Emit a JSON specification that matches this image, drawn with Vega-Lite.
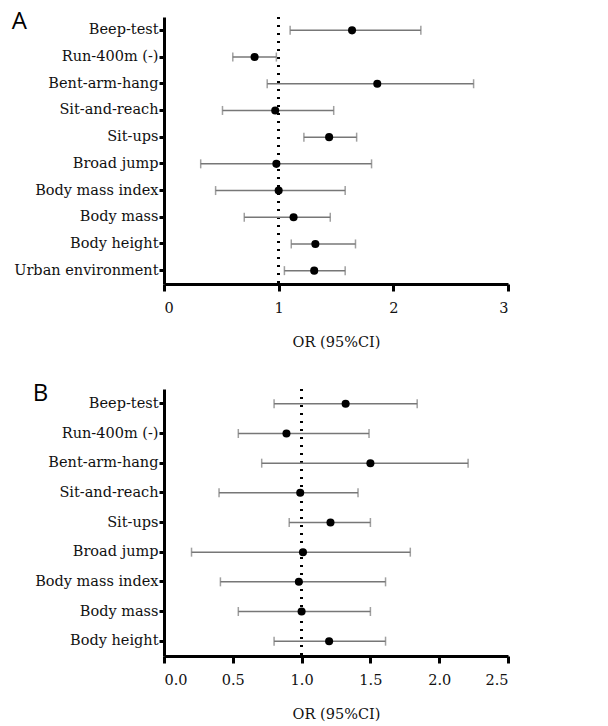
{
  "$schema": "https://vega.github.io/schema/vega-lite/v6.json",
  "background": "white",
  "padding": {"left": 11, "top": 9, "right": 5, "bottom": 5},
  "config": {
    "view": {"stroke": null},
    "axis": {
      "domainColor": "black", "domainWidth": 3, "tickColor": "black", "tickWidth": 3,
      "labelFontSize": 14.5, "labelColor": "#111",
      "titleFontSize": 14.5, "titleFontWeight": "normal", "titleColor": "#111",
      "grid": false
    },
    "title": {"font": "Open Sans", "fontSize": 24, "fontWeight": "normal", "anchor": "start", "frame": "bounds", "color": "black"}
  },
  "datasets": {
    "A": [
      {"measure": "Beep-test", "or": 1.64, "lo": 1.10, "hi": 2.24},
      {"measure": "Run-400m (-)", "or": 0.79, "lo": 0.60, "hi": 0.98},
      {"measure": "Bent-arm-hang", "or": 1.86, "lo": 0.90, "hi": 2.70},
      {"measure": "Sit-and-reach", "or": 0.97, "lo": 0.51, "hi": 1.48},
      {"measure": "Sit-ups", "or": 1.44, "lo": 1.22, "hi": 1.68},
      {"measure": "Broad jump", "or": 0.98, "lo": 0.32, "hi": 1.81},
      {"measure": "Body mass index", "or": 1.00, "lo": 0.45, "hi": 1.58},
      {"measure": "Body mass", "or": 1.13, "lo": 0.70, "hi": 1.45},
      {"measure": "Body height", "or": 1.32, "lo": 1.11, "hi": 1.67},
      {"measure": "Urban environment", "or": 1.31, "lo": 1.05, "hi": 1.58}
    ],
    "B": [
      {"measure": "Beep-test", "or": 1.32, "lo": 0.80, "hi": 1.84},
      {"measure": "Run-400m (-)", "or": 0.89, "lo": 0.54, "hi": 1.49},
      {"measure": "Bent-arm-hang", "or": 1.50, "lo": 0.71, "hi": 2.21},
      {"measure": "Sit-and-reach", "or": 0.99, "lo": 0.40, "hi": 1.41},
      {"measure": "Sit-ups", "or": 1.21, "lo": 0.91, "hi": 1.50},
      {"measure": "Broad jump", "or": 1.01, "lo": 0.20, "hi": 1.79},
      {"measure": "Body mass index", "or": 0.98, "lo": 0.41, "hi": 1.61},
      {"measure": "Body mass", "or": 1.00, "lo": 0.54, "hi": 1.50},
      {"measure": "Body height", "or": 1.20, "lo": 0.80, "hi": 1.61}
    ]
  },
  "spacing": 32,
  "vconcat": [
    {
      "title": {"text": "A", "dy": 22, "dx": -2},
      "width": 344,
      "height": 267,
      "data": {"name": "A"},
      "encoding": {
        "y": {"field": "measure", "type": "nominal", "sort": null, "title": null,
              "axis": {"tickSize": 5, "labelPadding": 1, "labelFont": "DejaVu Serif"}}
      },
      "layer": [
        {
          "mark": {"type": "rule", "color": "black", "strokeWidth": 2.2, "strokeDash": [2, 6]},
          "encoding": {"x": {"datum": 1}, "y": null}
        },
        {
          "mark": {"type": "errorbar", "ticks": {"size": 9, "thickness": 1.5, "color": "#777"}, "rule": {"strokeWidth": 1.5, "color": "#777"}},
          "encoding": {
            "x": {"field": "lo", "type": "quantitative", "scale": {"domain": [0, 3], "nice": false},
                  "title": "OR (95%CI)",
                  "axis": {"values": [0, 1, 2, 3], "tickSize": 7, "labelPadding": 10, "titlePadding": 21, "format": "d", "labelFont": "DejaVu Serif", "titleFont": "DejaVu Serif"}},
            "x2": {"field": "hi"}
          }
        },
        {
          "mark": {"type": "point", "filled": true, "color": "black", "opacity": 1, "size": 65},
          "encoding": {"x": {"field": "or", "type": "quantitative"}}
        }
      ]
    },
    {
      "title": {"text": "B", "dy": 22, "dx": -2},
      "width": 344,
      "height": 267,
      "data": {"name": "B"},
      "encoding": {
        "y": {"field": "measure", "type": "nominal", "sort": null, "title": null,
              "axis": {"tickSize": 5, "labelPadding": 1, "labelFont": "DejaVu Serif"}}
      },
      "layer": [
        {
          "mark": {"type": "rule", "color": "black", "strokeWidth": 2.2, "strokeDash": [2, 6]},
          "encoding": {"x": {"datum": 1}, "y": null}
        },
        {
          "mark": {"type": "errorbar", "ticks": {"size": 9, "thickness": 1.5, "color": "#777"}, "rule": {"strokeWidth": 1.5, "color": "#777"}},
          "encoding": {
            "x": {"field": "lo", "type": "quantitative", "scale": {"domain": [0, 2.5], "nice": false},
                  "title": "OR (95%CI)",
                  "axis": {"values": [0, 0.5, 1, 1.5, 2, 2.5], "tickSize": 7, "labelPadding": 10, "titlePadding": 21, "format": ".1f", "labelFont": "DejaVu Serif", "titleFont": "DejaVu Serif"}},
            "x2": {"field": "hi"}
          }
        },
        {
          "mark": {"type": "point", "filled": true, "color": "black", "opacity": 1, "size": 65},
          "encoding": {"x": {"field": "or", "type": "quantitative"}}
        }
      ]
    }
  ]
}
